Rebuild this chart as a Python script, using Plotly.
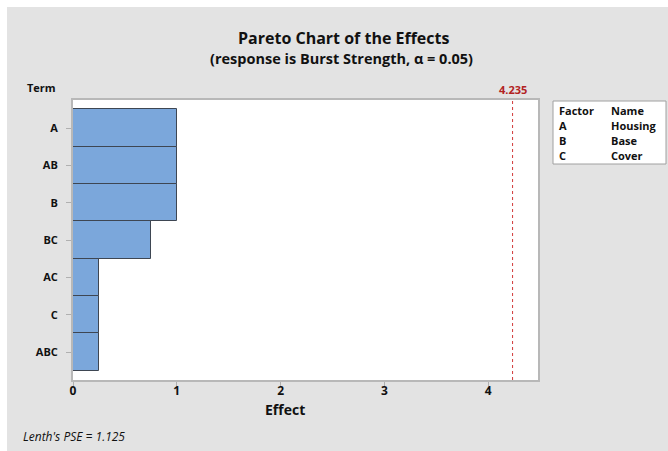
import plotly.graph_objects as go

terms = ["A", "AB", "B", "BC", "AC", "C", "ABC"]
effects = [1.0, 1.0, 1.0, 0.75, 0.25, 0.25, 0.25]
ref_value = 4.235
x_ticks = [0, 1, 2, 3, 4]
factors = ["A", "B", "C"]
names = ["Housing", "Base", "Cover"]

W, H = 668, 451
L, R, T, B = 73, 538, 100, 380
pw, ph = R - L, B - T

def px(x):
    return (x - L) / pw

def py(y):
    return (B - y) / ph

FONT = "Open Sans, Noto Sans, sans-serif"
GREY = "#e3e3e3"

fig = go.Figure()
fig.add_trace(go.Bar(
    y=terms, x=effects, orientation="h",
    marker=dict(color="#7ba7db", line=dict(color="#3e4652", width=1)),
    hoverinfo="x+y", showlegend=False,
))

fig.add_shape(type="line", xref="x", yref="paper", x0=ref_value, x1=ref_value, y0=0, y1=1,
              line=dict(color="#d23a3a", width=1, dash="dot"))

ann = []
ann.append(dict(text="<b>Pareto Chart of the Effects</b>", x=px(343), y=py(38), xref="paper", yref="paper",
                showarrow=False, font=dict(size=16, color="#111", family=FONT), xanchor="center", yanchor="middle"))
ann.append(dict(text="<b>(response is Burst Strength, α = 0.05)</b>", x=px(341), y=py(58), xref="paper", yref="paper",
                showarrow=False, font=dict(size=14.5, color="#111", family=FONT), xanchor="center", yanchor="middle"))
ann.append(dict(text="<b>Term</b>", x=px(25), y=py(88), xref="paper", yref="paper",
                showarrow=False, font=dict(size=11, color="#111", family=FONT), xanchor="left", yanchor="middle"))
ann.append(dict(text="<b>Effect</b>", x=px(285), y=py(409), xref="paper", yref="paper",
                showarrow=False, font=dict(size=14, color="#111", family=FONT), xanchor="center", yanchor="middle"))
ann.append(dict(text="<i>Lenth's PSE = 1.125</i>", x=px(21), y=py(436), xref="paper", yref="paper",
                showarrow=False, font=dict(size=12, color="#111", family=FONT), xanchor="left", yanchor="middle"))
ann.append(dict(text=f"<b>{ref_value}</b>", x=ref_value, y=py(90), xref="x", yref="paper",
                showarrow=False, font=dict(size=11, color="#b22222", family=FONT), xanchor="center", yanchor="middle"))

# legend box
fig.add_shape(type="rect", xref="paper", yref="paper", x0=px(553), x1=px(666), y0=py(164), y1=py(101),
              fillcolor="white", line=dict(color="#a0a0a0", width=1))
rows = [("Factor", "Name")] + list(zip(factors, names))
for i, (f, n) in enumerate(rows):
    yy = py(110 + i * 15)
    ann.append(dict(text=f"<b>{f}</b>", x=px(557), y=yy, xref="paper", yref="paper", showarrow=False,
                    font=dict(size=11, color="#111", family=FONT), xanchor="left", yanchor="middle"))
    ann.append(dict(text=f"<b>{n}</b>", x=px(609), y=yy, xref="paper", yref="paper", showarrow=False,
                    font=dict(size=11, color="#111", family=FONT), xanchor="left", yanchor="middle"))

# white strips at top and left
fig.add_shape(type="rect", xref="paper", yref="paper", x0=px(0), x1=px(W), y0=py(7), y1=py(0),
              fillcolor="white", line=dict(width=0), layer="below")
fig.add_shape(type="rect", xref="paper", yref="paper", x0=px(0), x1=px(7), y0=py(H), y1=py(0),
              fillcolor="white", line=dict(width=0), layer="below")

fig.update_layout(
    width=W, height=H,
    margin=dict(l=L, r=W - R, t=T, b=H - B, autoexpand=False),
    paper_bgcolor=GREY, plot_bgcolor="white",
    bargap=0,
    annotations=ann,
    font=dict(family=FONT, color="#111"),
    xaxis=dict(range=[0, 4.48], tickvals=x_ticks, ticktext=[f"<b>{t}</b>" for t in x_ticks],
               showgrid=False, zeroline=False, showline=True, linecolor="#b8b8b8", linewidth=2, mirror=True,
               ticks="outside", ticklen=4, tickcolor="#b0b0b0", tickfont=dict(size=12, color="#111"),
               ticklabelstandoff=-5),
    yaxis=dict(range=[6.75, -0.75], categoryorder="array", categoryarray=terms,
               tickvals=terms, ticktext=[f"<b>{t}</b>" for t in terms],
               showgrid=False, zeroline=False, showline=True, linecolor="#b8b8b8", linewidth=2, mirror=True,
               ticks="outside", ticklen=5, tickcolor="#b0b0b0", tickfont=dict(size=11, color="#111"),
               ticklabelstandoff=6),
)

fig.write_html("out.html")
